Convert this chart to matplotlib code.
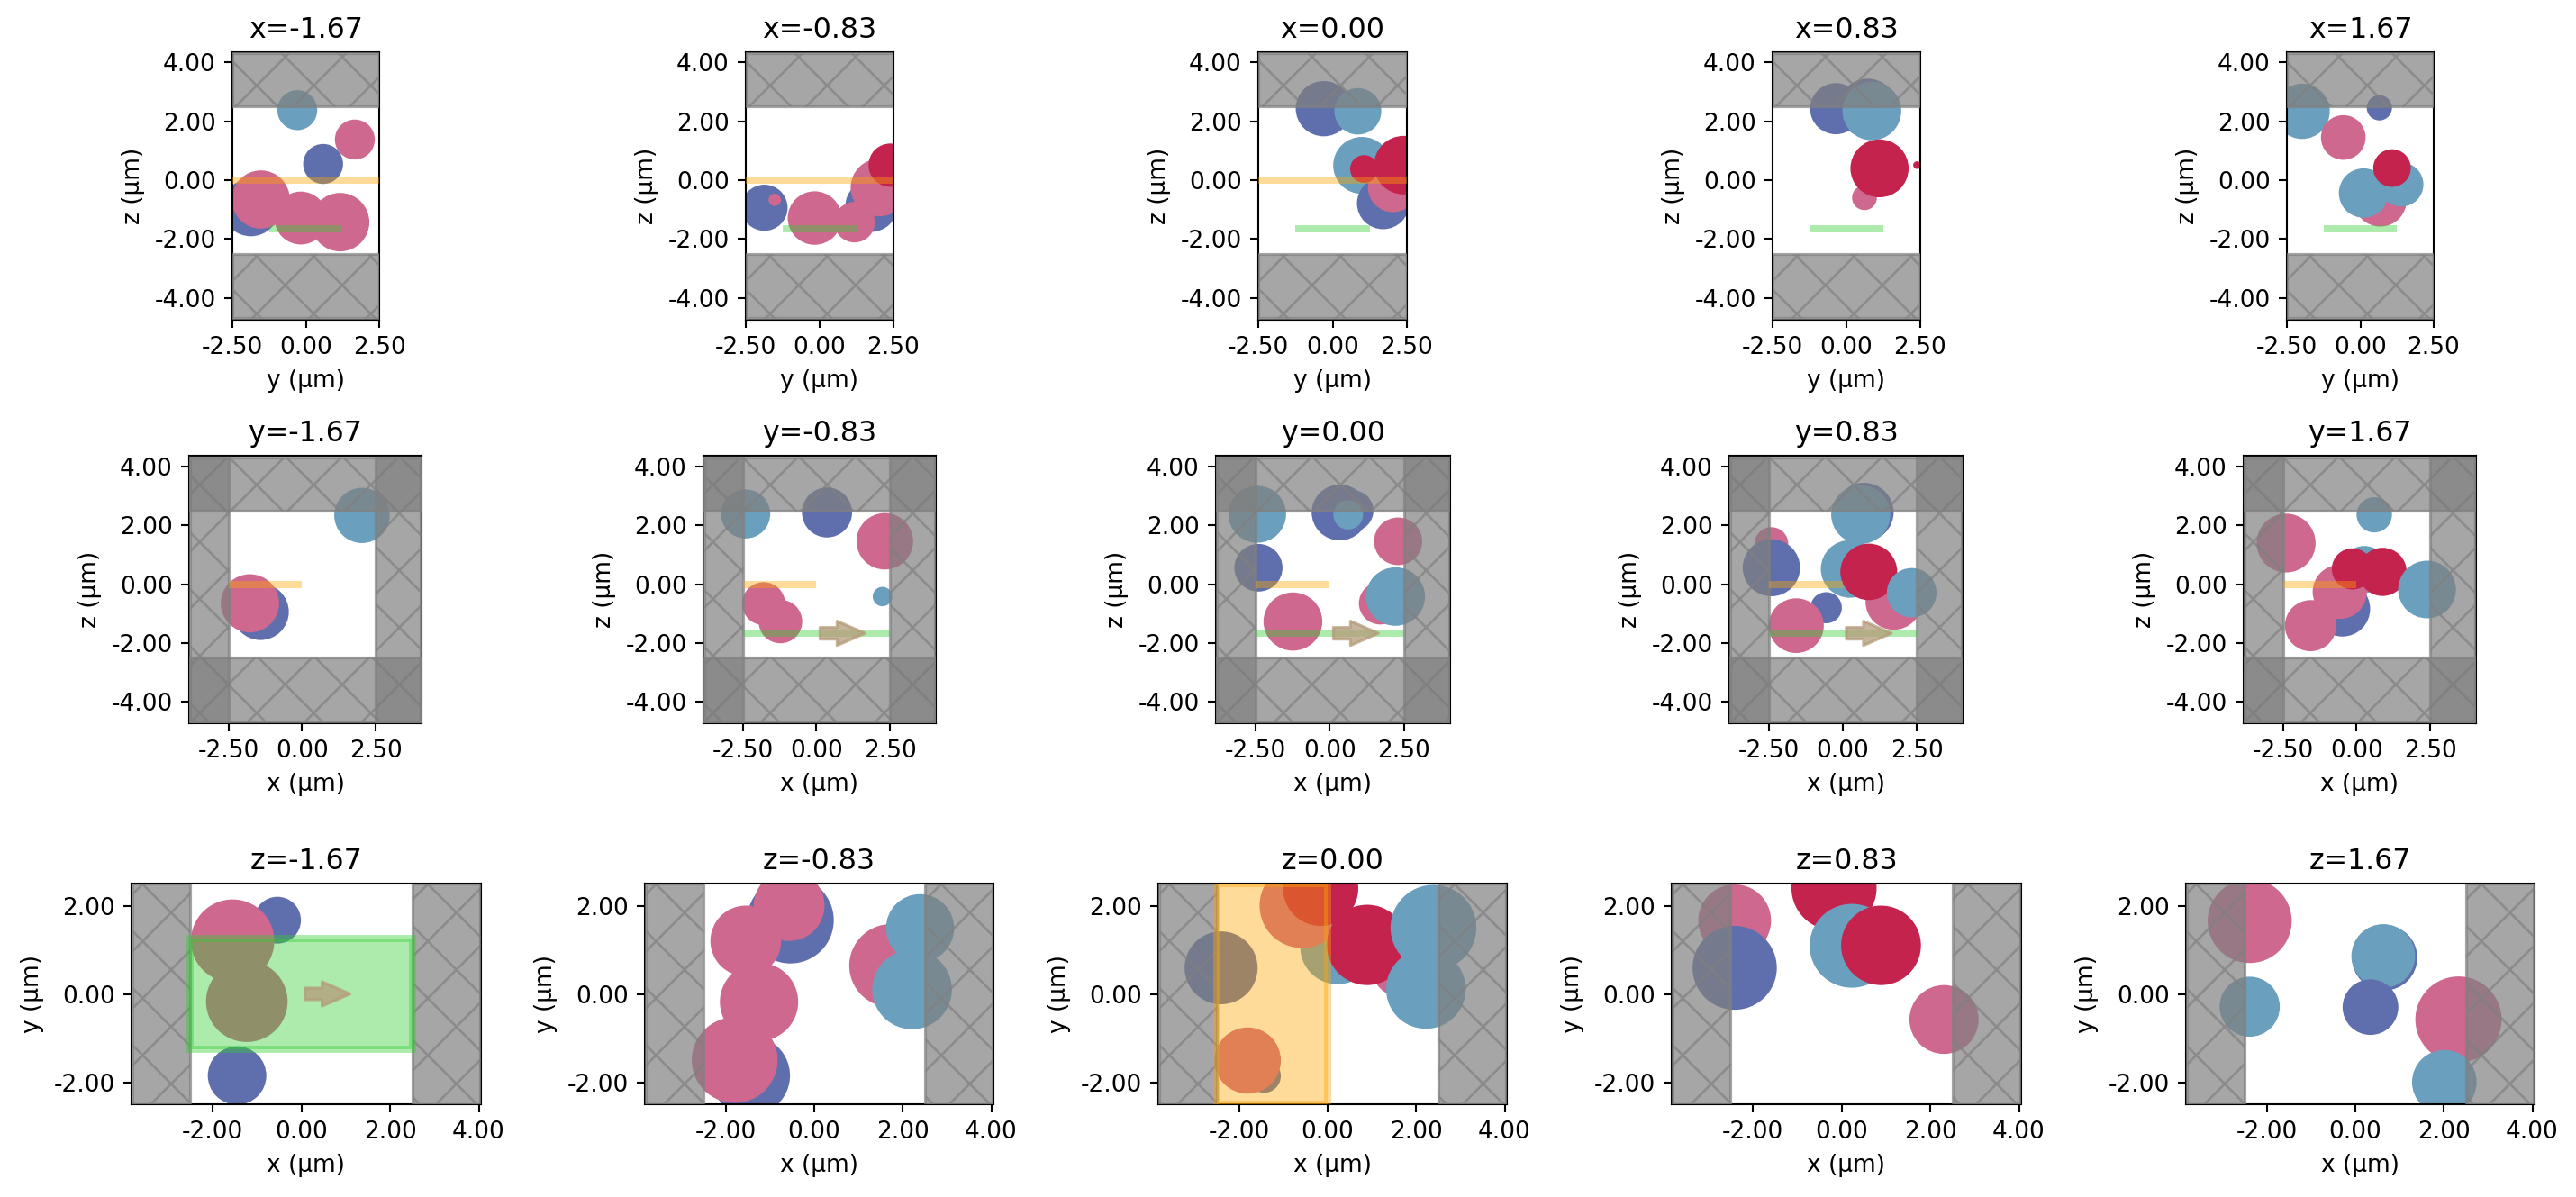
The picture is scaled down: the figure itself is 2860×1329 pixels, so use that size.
import matplotlib
matplotlib.use("Agg")
import matplotlib.pyplot as plt
from matplotlib.patches import Circle, Rectangle, Polygon
from matplotlib.transforms import IdentityTransform, ScaledTranslation

# Circles: (material, horizontal, vertical, radius) for every slice
x_m167 = [("teal", -0.29, 2.38, 0.68), ("pink", 1.67, 1.38, 0.68), ("blue", 0.59, 0.55, 0.68),
          ("blue", -1.87, -0.93, 0.98), ("pink", -0.17, -1.29, 0.90), ("pink", 1.17, -1.43, 0.995),
          ("pink", -1.53, -0.66, 0.99)]
x_m083 = [("blue", -1.87, -0.94, 0.785), ("pink", -1.52, -0.67, 0.21), ("pink", -0.17, -1.29, 0.91),
          ("blue", 1.75, -0.88, 0.88), ("pink", 2.03, -0.25, 0.98), ("pink", 1.18, -1.43, 0.69),
          ("crimson", 2.39, 0.51, 0.735)]
x_000 = [("blue", -0.30, 2.43, 0.94), ("teal", 0.85, 2.34, 0.79), ("teal", 0.99, 0.50, 0.97),
         ("blue", 1.70, -0.79, 0.88), ("pink", 2.03, -0.25, 0.84), ("crimson", 1.06, 0.38, 0.47),
         ("crimson", 2.39, 0.51, 0.995)]
x_p083 = [("blue", -0.36, 2.43, 0.87), ("blue", 0.72, 2.45, 1.00), ("teal", 0.86, 2.35, 0.995),
          ("pink", 0.61, -0.60, 0.42), ("crimson", 1.12, 0.40, 0.985), ("crimson", 2.39, 0.51, 0.13)]
x_p167 = [("teal", -1.98, 2.34, 0.94), ("blue", 0.65, 2.46, 0.43), ("pink", -0.58, 1.45, 0.76),
          ("pink", 0.68, -0.68, 0.90), ("teal", 1.40, -0.15, 0.75), ("teal", 0.11, -0.44, 0.84),
          ("crimson", 1.08, 0.41, 0.64)]

y_m167 = [("teal", 2.03, 2.34, 0.94), ("blue", -1.41, -0.94, 0.96), ("pink", -1.77, -0.65, 0.99)]
y_m083 = [("teal", -2.40, 2.39, 0.835), ("blue", 0.36, 2.44, 0.85), ("pink", 2.32, 1.46, 0.96),
          ("teal", 2.24, -0.42, 0.33), ("pink", -1.79, -0.66, 0.73), ("pink", -1.22, -1.27, 0.74)]
y_000 = [("teal", -2.44, 2.38, 0.97), ("blue", -2.40, 0.56, 0.81), ("pink", -1.24, -1.27, 0.99),
         ("blue", 0.34, 2.44, 0.95), ("blue", 0.77, 2.50, 0.70), ("teal", 0.62, 2.36, 0.50),
         ("pink", 2.30, 1.46, 0.81), ("pink", 1.70, -0.65, 0.72), ("teal", 2.21, -0.42, 0.995)]
y_p083 = [("pink", -2.41, 1.37, 0.57), ("blue", -2.41, 0.56, 0.97), ("blue", 0.72, 2.45, 1.00),
          ("teal", 0.61, 2.37, 1.00), ("teal", 0.24, 0.52, 0.98), ("blue", -0.56, -0.80, 0.53),
          ("pink", -1.57, -1.41, 0.93), ("pink", 1.72, -0.60, 0.95), ("crimson", 0.88, 0.42, 0.96),
          ("teal", 2.33, -0.29, 0.84)]
y_p167 = [("pink", -2.39, 1.40, 1.00), ("teal", 0.60, 2.36, 0.60), ("teal", 0.26, 0.50, 0.80),
          ("blue", -0.48, -0.84, 0.94), ("pink", -0.57, -0.26, 0.92), ("pink", -1.56, -1.41, 0.87),
          ("crimson", -0.14, 0.52, 0.70), ("crimson", 0.88, 0.42, 0.82), ("teal", 2.39, -0.18, 0.98)]

z_m167 = [("blue", -0.54, 1.67, 0.53), ("pink", -1.55, 1.20, 0.94), ("pink", -1.23, -0.17, 0.92),
          ("blue", -1.45, -1.85, 0.66)]
z_m083 = [("blue", -0.54, 1.67, 0.98), ("pink", -0.57, 2.00, 0.80), ("pink", -1.55, 1.20, 0.80),
          ("blue", -1.45, -1.85, 0.90), ("pink", -1.25, -0.18, 0.885), ("pink", -1.80, -1.50, 0.97),
          ("pink", 1.73, 0.64, 0.94), ("teal", 2.39, 1.49, 0.77), ("teal", 2.21, 0.10, 0.90)]
z_000 = [("blue", -2.41, 0.59, 0.825), ("blue", -1.44, -1.86, 0.38), ("pink", -1.81, -1.51, 0.75),
         ("teal", 0.22, 1.06, 0.84), ("pink", 1.70, 0.63, 0.72), ("pink", -0.58, 2.00, 0.96),
         ("crimson", -0.16, 2.39, 0.85), ("crimson", 0.89, 1.11, 0.91), ("teal", 2.39, 1.50, 0.97),
         ("teal", 2.22, 0.11, 0.90)]
z_p083 = [("pink", -2.41, 1.66, 0.82), ("blue", -2.41, 0.59, 0.95), ("crimson", -0.17, 2.40, 0.96),
          ("teal", 0.23, 1.09, 0.95), ("crimson", 0.89, 1.10, 0.90), ("pink", 2.31, -0.58, 0.78)]
z_p167 = [("pink", -2.39, 1.65, 0.95), ("teal", -2.39, -0.29, 0.68), ("blue", 0.66, 0.82, 0.74),
          ("teal", 0.63, 0.86, 0.72), ("blue", 0.34, -0.30, 0.63), ("pink", 2.33, -0.58, 0.975),
          ("teal", 2.01, -2.00, 0.73)]

positions = [-1.67, -0.83, 0.00, 0.83, 1.67]
titles_x = ["x=-1.67", "x=-0.83", "x=0.00", "x=0.83", "x=1.67"]
titles_y = ["y=-1.67", "y=-0.83", "y=0.00", "y=0.83", "y=1.67"]
titles_z = ["z=-1.67", "z=-0.83", "z=0.00", "z=0.83", "z=1.67"]
ticks_y_axis = [-2.5, 0.0, 2.5]
ticks_z_axis = [-4, -2, 0, 2, 4]
ticks_x_axis = [-2.5, 0.0, 2.5]
ticks_x_wide = [-2, 0, 2, 4]
ticks_y_short = [-2, 0, 2]

COL = {"blue": "#5F6FAD", "teal": "#6A9FBE", "pink": "#CE688E", "crimson": "#C4234E"}
PML = (0.5, 0.5, 0.5, 0.7)
SRC = (1.0, 0.647, 0.0, 0.4)
MON = (0.196, 0.804, 0.196, 0.4)
ARW = (0.706, 0.608, 0.478, 0.75)

XLIM, YLIM = (-3.83, 4.05), (-2.5, 2.5)
ZLIM_TOP, ZLIM_MID = (-4.75, 4.35), (-4.73, 4.37)
XPML, ZPML = (-3.80, 4.02), (-4.70, 4.32)
INNER = 2.5
W, H, DPI = 2860, 1329, 190

fig = plt.figure(figsize=(W / DPI, H / DPI), dpi=DPI)


def make_ax(box):
    l, r, t, b = box
    return fig.add_axes([l / W, 1 - b / H, (r - l) / W, (b - t) / H])


def pml(ax, x0, x1, y0, y1):
    ax.add_patch(Rectangle((x0, y0), x1 - x0, y1 - y0, facecolor=PML, edgecolor=PML,
                           hatch="x", lw=1.2, zorder=3))


def arrow(ax, x, y):
    pts = [(4, -6.5), (23, -6.5), (23, -13.5), (54, 0), (23, 13.5), (23, 6.5), (4, 6.5)]
    tr = IdentityTransform() + ScaledTranslation(x, y, ax.transData)
    ax.add_patch(Polygon(pts, closed=True, transform=tr, facecolor=ARW, edgecolor=ARW,
                         lw=1.2, joinstyle="round", zorder=7, clip_on=True))


def finish(ax, title, xl, yl, xlim, ylim, xt, yt, circles):
    for m, u, v, r in circles:
        ax.add_patch(Circle((u, v), r, facecolor=COL[m], edgecolor="none", zorder=2))
    ax.set_xlim(*xlim)
    ax.set_ylim(*ylim)
    ax.set_xticks(xt)
    ax.set_yticks(yt)
    ax.set_xticklabels([f"{t:.2f}" for t in xt])
    ax.set_yticklabels([f"{t:.2f}" for t in yt])
    ax.set_xlabel(xl)
    ax.set_ylabel(yl)
    ax.set_title(title)


def hline(ax, x0, x1, y, col):
    ax.plot([x0, x1], [y, y], color=col, lw=3, solid_capstyle="butt", zorder=5)


boxes1 = [(258, 421, 58, 355), (828, 992, 58, 355), (1397, 1562, 58, 355),
          (1968, 2132, 58, 355), (2539, 2702, 58, 355)]
boxes2 = [(210, 468, 506, 803), (781, 1039, 506, 803), (1350, 1610, 506, 803),
          (1920, 2179, 506, 803), (2491, 2749, 506, 803)]
boxes3 = [(146, 534, 981, 1226), (716, 1103, 981, 1226), (1286, 1673, 981, 1226),
          (1856, 2244, 981, 1226), (2427, 2814, 981, 1226)]

for i, (box, data) in enumerate(zip(boxes1, [x_m167, x_m083, x_000, x_p083, x_p167])):
    ax = make_ax(box)
    pml(ax, -INNER, INNER, ZPML[0], -INNER)
    pml(ax, -INNER, INNER, INNER, ZPML[1])
    if positions[i] <= 0:
        hline(ax, -INNER, INNER, 0, SRC)
    hline(ax, -1.25, 1.25, -1.67, MON)
    finish(ax, titles_x[i], "y (\u00b5m)", "z (\u00b5m)", YLIM, ZLIM_TOP, ticks_y_axis, ticks_z_axis, data)

for i, (box, data) in enumerate(zip(boxes2, [y_m167, y_m083, y_000, y_p083, y_p167])):
    ax = make_ax(box)
    pml(ax, XPML[0], XPML[1], ZPML[0], -INNER)
    pml(ax, XPML[0], XPML[1], INNER, ZPML[1])
    pml(ax, XPML[0], -INNER, ZPML[0], ZPML[1])
    pml(ax, INNER, XPML[1], ZPML[0], ZPML[1])
    hline(ax, -INNER, 0, 0, SRC)
    if abs(positions[i]) < 1.25:
        hline(ax, -INNER, INNER, -1.67, MON)
        arrow(ax, 0, -1.67)
    finish(ax, titles_y[i], "x (\u00b5m)", "z (\u00b5m)", XLIM, ZLIM_MID, ticks_x_axis, ticks_z_axis, data)

for i, (box, data) in enumerate(zip(boxes3, [z_m167, z_m083, z_000, z_p083, z_p167])):
    ax = make_ax(box)
    pml(ax, XPML[0], -INNER, -2.49, 2.49)
    pml(ax, INNER, XPML[1], -2.49, 2.49)
    if i == 2:
        ax.add_patch(Rectangle((-INNER, -INNER), INNER, 2 * INNER, facecolor=SRC, edgecolor=SRC,
                               lw=3, zorder=5))
    if i == 0:
        ax.add_patch(Rectangle((-INNER, -1.25), 2 * INNER, 2.5, facecolor=MON, edgecolor=MON,
                               lw=3, zorder=5))
        arrow(ax, 0, 0)
    finish(ax, titles_z[i], "x (\u00b5m)", "y (\u00b5m)", XLIM, YLIM, ticks_x_wide, ticks_y_short, data)

fig.savefig("out.png", dpi=DPI)
